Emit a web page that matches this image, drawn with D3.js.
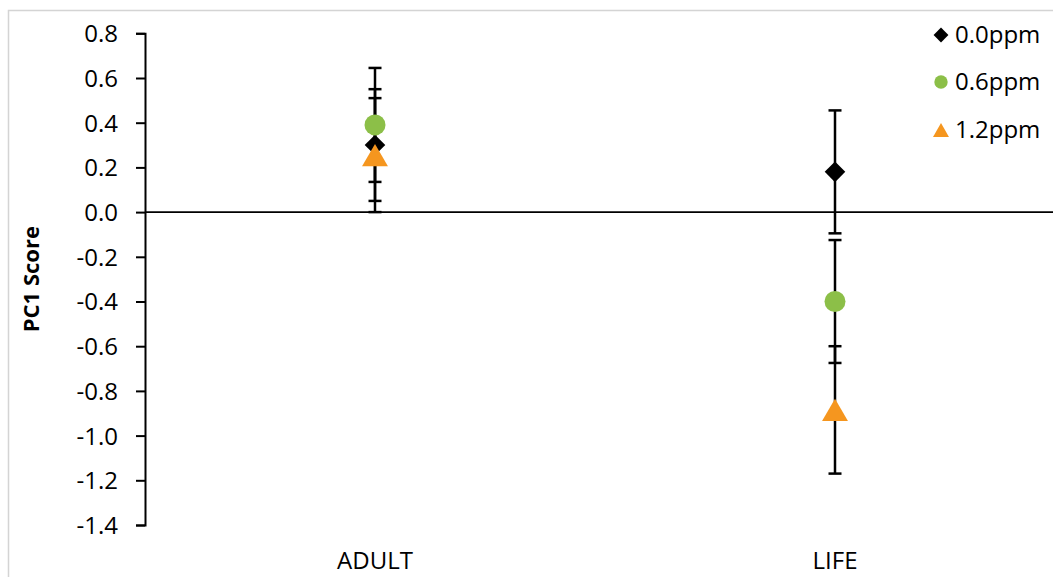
<!DOCTYPE html>
<html><head><meta charset="utf-8">
<script src="https://cdn.jsdelivr.net/npm/d3@7"></script>
<style>
html,body{margin:0;padding:0;background:#fff;}
svg{display:block;}
text{font-family:"Open Sans",sans-serif;fill:#000;}
</style></head>
<body>
<svg id="chart" width="1053" height="577"></svg>
<script>
const categories = ["ADULT", "LIFE"];
const seriesNames = ["0.0ppm", "0.6ppm", "1.2ppm"];
const values0 = [0.30, 0.18];
const values06 = [0.39, -0.40];
const values12 = [0.255, -0.885];
const errors0 = [0.25, 0.275];
const errors06 = [0.255, 0.275];
const errors12 = [0.255, 0.285];
const yTicks = [0.8, 0.6, 0.4, 0.2, 0.0, -0.2, -0.4, -0.6, -0.8, -1.0, -1.2, -1.4];
const yTitle = "PC1 Score";

const colors = ["#000000", "#8cbf48", "#f5961f"];
const shapes = [d3.symbolDiamond2, d3.symbolCircle, d3.symbolTriangle];

const svg = d3.select("#chart");
const W = 1053, H = 577;

// frame
svg.append("path").attr("d", `M8.5,${H}V10.5H${W}`).attr("fill","none").attr("stroke","#d4d4d4").attr("stroke-width",1.5);

const x = d3.scaleBand().domain(categories).range([145, 1065]);
const y = d3.scaleLinear().domain([-1.4, 0.8]).range([525, 33.3]);

const fmt = d3.formatLocale({decimal:".", thousands:",", grouping:[3], currency:["",""], minus:"-"}).format(".1f");

// y axis
const gy = svg.append("g").attr("transform","translate(145,0)")
  .call(d3.axisLeft(y).tickValues(yTicks).tickFormat(fmt).tickSize(9).tickPadding(18).tickSizeOuter(9));
gy.select(".domain").attr("stroke","#000").attr("stroke-width",2);
gy.selectAll(".tick line").attr("stroke","#000").attr("stroke-width",2);
gy.selectAll(".tick text").style("font-family","'Open Sans',sans-serif").style("font-size","24px").attr("fill","#000").attr("dy","0.35em");

// zero line
svg.append("line").attr("x1",145).attr("x2",W).attr("y1",y(0)).attr("y2",y(0)).attr("stroke","#000").attr("stroke-width",1.8);

// y title
svg.append("text").attr("transform",`translate(38.5,${(y(0.8)+y(-1.4))/2})rotate(-90)`)
  .attr("text-anchor","middle").style("font-size","22px").style("font-weight","bold").text(yTitle);

// x labels
svg.selectAll(".xl").data(categories).enter().append("text")
  .attr("x", d => x(d) + x.bandwidth()/2).attr("y", 569)
  .attr("text-anchor","middle").style("font-size","24px").text(d => d);

const series = [
  {name: seriesNames[0], vals: values0, errs: errors0},
  {name: seriesNames[1], vals: values06, errs: errors06},
  {name: seriesNames[2], vals: values12, errs: errors12}
];
const cx = c => x(c) + x.bandwidth()/2;

// error bars
series.forEach((s, si) => {
  const g = svg.append("g");
  categories.forEach((c, i) => {
    const v = s.vals[i], e = s.errs[i];
    const xc = cx(c);
    g.append("line").attr("x1",xc).attr("x2",xc).attr("y1",y(v+e)).attr("y2",y(v-e)).attr("stroke","#000").attr("stroke-width",2.5);
    [v+e, v-e].forEach(t => {
      g.append("line").attr("x1",xc-6.5).attr("x2",xc+6.5).attr("y1",y(t)).attr("y2",y(t)).attr("stroke","#000").attr("stroke-width",2.5);
    });
  });
});

// triangle symbols are centroid-centred in d3; shift so the bounding box is centred
const triShift = size => Math.sqrt(size / (3 * Math.sqrt(3))) / 2;

// markers
const markerSizes = [270, 346, 290];
series.forEach((s, si) => {
  const dy = si === 2 ? triShift(markerSizes[si]) : 0;
  svg.append("g").selectAll("path").data(categories).enter().append("path")
    .attr("d", d3.symbol().type(shapes[si]).size(markerSizes[si]))
    .attr("transform", (c, i) => `translate(${cx(c)},${y(s.vals[i]) + dy})`)
    .attr("fill", colors[si]);
});

// legend
const legendY = [35, 82, 130];
const legendSizes = [140, 140, 110];
const lg = svg.append("g");
series.forEach((s, si) => {
  const dy = si === 2 ? triShift(legendSizes[si]) : 0;
  lg.append("path").attr("d", d3.symbol().type(shapes[si]).size(legendSizes[si]))
    .attr("transform", `translate(941,${legendY[si] + dy})`).attr("fill", colors[si]);
  lg.append("text").attr("x", 955).attr("y", legendY[si]).attr("dy","0.35em")
    .style("font-size","24px").text(s.name);
});
</script>
</body></html>
